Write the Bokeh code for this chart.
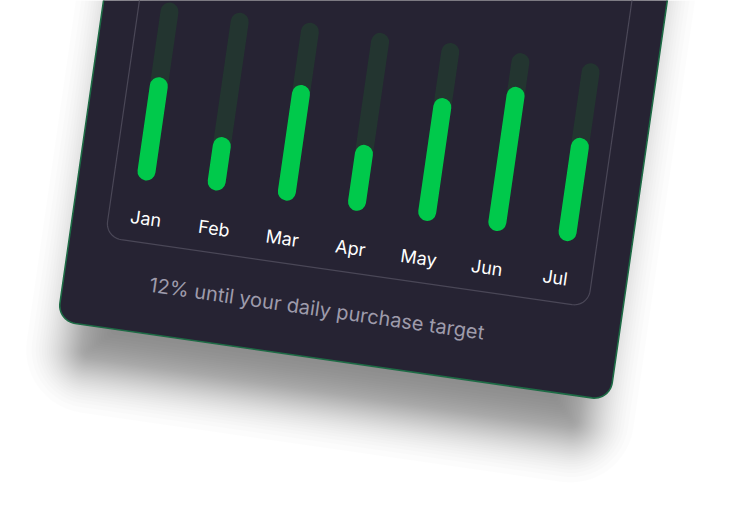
import numpy as np
from statistics import NormalDist
from bokeh.plotting import figure
from bokeh.models import Range1d, ColumnDataSource
from bokeh.embed import file_html
from bokeh.resources import INLINE
from bokeh.core.properties import value

# ---------------- data ----------------
months = ["Jan", "Feb", "Mar", "Apr", "May", "Jun", "Jul"]
progress = [58, 30, 65, 37, 69, 81, 58]          # % of track filled
footer_text = "12% until your daily purchase target"

# ---------------- layout / style ----------------
W, H = 748, 508
TILT = 8.2                                        # card rotation, degrees clockwise
theta = np.deg2rad(TILT)
cs, sn = np.cos(theta), np.sin(theta)

CARD = dict(x0=102, x1=660, y0=-420, y1=309, r=18)
PANEL = dict(x0=137.5, x1=625, y0=-420, y1=219.5, r=16)
BAR_X0, BAR_DX = 168.9, 70.9
BAR_BOTTOM, BAR_LEN, BAR_W = 148.4, 161.6, 18
LAB_XC, LAB_DX, LAB_Y = 381.7, 68.9, 195
FOOT_X, FOOT_Y = 357, 260

SH_DY, SH_INSET, SH_SIGMA, SH_N, SH_PEAK = 42, 18, 26, 44, 0.40

BG = "#ffffff"
CARD_FILL = "#262333"
CARD_EDGE = "#1d6b45"
PANEL_EDGE = "#4a4757"
TRACK = "#233530"
GREEN = "#00c94b"
LABEL = "#ffffff"
FOOT = "#9e9bab"


def to_screen(xl, yl):
    xl = np.asarray(xl, float)
    yl = np.asarray(yl, float)
    return xl * cs - yl * sn, xl * sn + yl * cs


def rrect(x0, y0, x1, y1, r, n=14):
    pts = []
    corners = [(x1 - r, y1 - r, 0, 90), (x0 + r, y1 - r, 90, 180),
               (x0 + r, y0 + r, 180, 270), (x1 - r, y0 + r, 270, 360)]
    for cx, cy, a0, a1 in corners:
        a = np.deg2rad(np.linspace(a0, a1, n))
        pts += list(zip(cx + r * np.cos(a), cy + r * np.sin(a)))
    xs, ys = zip(*pts)
    sx, sy = to_screen(xs, ys)
    return list(sx), list(sy)


p = figure(width=W, height=H, x_range=Range1d(0, W), y_range=Range1d(H, 0),
           output_backend="svg", toolbar_location=None, min_border=0)
p.axis.visible = False
p.grid.visible = False
p.outline_line_color = None
p.background_fill_color = BG
p.border_fill_color = BG

# ---- soft shadow: layers at normal quantiles approximate a gaussian blur ----
nd = NormalDist()
layer_alpha = 1 - (1 - SH_PEAK) ** (1.0 / SH_N)
sh_xs, sh_ys = [], []
for q in np.linspace(0.04, 0.96, SH_N):
    e = SH_SIGMA * nd.inv_cdf(float(q))
    xs, ys = rrect(CARD["x0"] + SH_INSET - e, CARD["y0"] + SH_DY - e,
                   CARD["x1"] - SH_INSET + e, CARD["y1"] + SH_DY + e,
                   max(18 + e, 4))
    sh_xs.append(xs)
    sh_ys.append(ys)
p.patches(sh_xs, sh_ys, fill_color="#000000", fill_alpha=layer_alpha, line_color=None)

# ---- card ----
cx, cy = rrect(**CARD)
p.patch(cx, cy, fill_color=CARD_FILL, line_color=CARD_EDGE, line_width=1.6)

# ---- inner panel ----
px, py = rrect(**PANEL)
p.patch(px, py, fill_color=None, line_color=PANEL_EDGE, line_width=1.2)

# ---- bars ----
idx = np.arange(len(months))
bx = BAR_X0 + idx * BAR_DX
total = BAR_LEN + BAR_W
green_top = BAR_BOTTOM - (np.array(progress) / 100.0 * total - BAR_W)

tx0, ty0 = to_screen(bx, np.full(len(bx), BAR_BOTTOM))
tx1, ty1 = to_screen(bx, np.full(len(bx), BAR_BOTTOM - BAR_LEN))
gx1, gy1 = to_screen(bx, green_top)

p.segment(x0=tx0, y0=ty0, x1=tx1, y1=ty1, line_color=TRACK,
          line_width=BAR_W, line_cap="round")
p.segment(x0=tx0, y0=ty0, x1=gx1, y1=gy1, line_color=GREEN,
          line_width=BAR_W, line_cap="round")

# ---- month labels ----
lx, ly = to_screen(LAB_XC + (idx - 3) * LAB_DX, np.full(len(idx), LAB_Y))
lab_src = ColumnDataSource(dict(x=lx, y=ly, t=months))
p.text(x="x", y="y", text="t", source=lab_src, angle=-TILT, angle_units="deg",
       text_font=value("Inter"), text_font_size="18px", text_color=LABEL,
       text_align="center", text_baseline="middle")

# ---- footer ----
fx, fy = to_screen([FOOT_X], [FOOT_Y])
p.text(x=list(fx), y=list(fy), text=[footer_text], angle=-TILT, angle_units="deg",
       text_font=value("Inter"), text_font_size="20px", text_color=FOOT,
       text_align="center", text_baseline="middle")

open("out.html", "w").write(file_html(p, INLINE))
